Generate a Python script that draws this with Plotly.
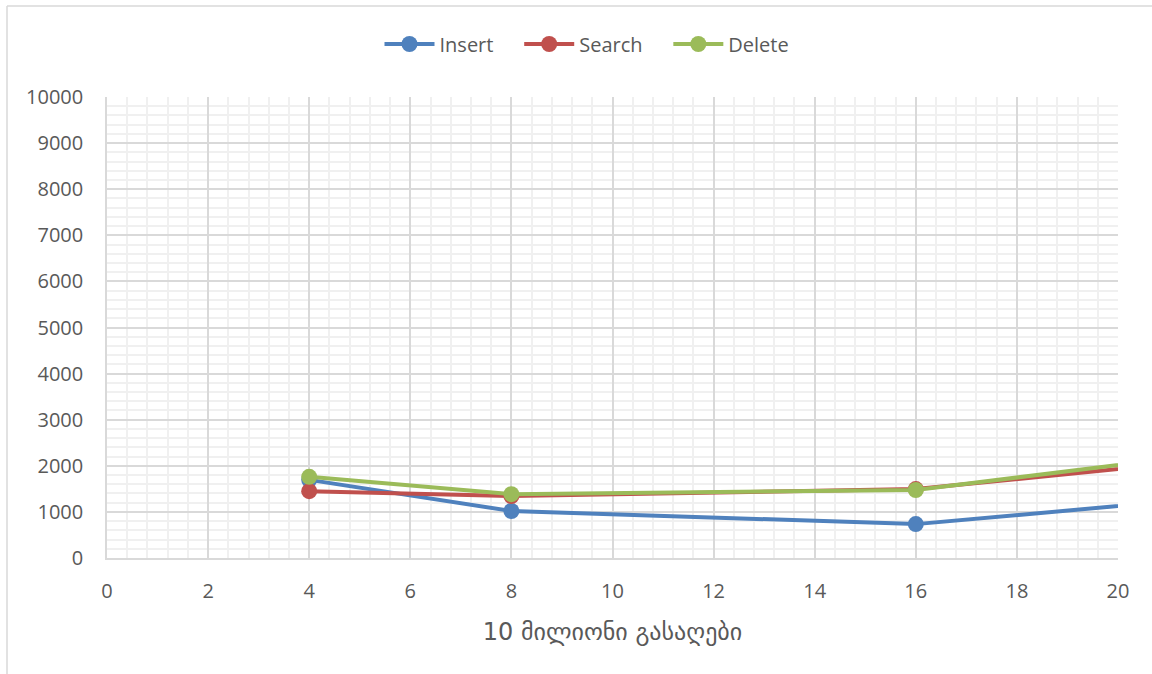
import plotly.graph_objects as go

x_values = [4, 8, 16, 32]
insert_vals = [1695, 1020, 735, 2300]
search_vals = [1450, 1345, 1495, 3230]
delete_vals = [1760, 1385, 1475, 3640]
x_ticks = [0, 2, 4, 6, 8, 10, 12, 14, 16, 18, 20]
y_ticks = [0, 1000, 2000, 3000, 4000, 5000, 6000, 7000, 8000, 9000, 10000]
x_title = "10 მილიონი გასაღები"

series = [
    ("Insert", insert_vals, "#4F81BD"),
    ("Search", search_vals, "#C0504D"),
    ("Delete", delete_vals, "#9BBB59"),
]

fig = go.Figure()
for i, (name, vals, color) in enumerate(series):
    label = name + ("\u00a0\u00a0\u00a0\u00a0" if i < len(series) - 1 else "")
    fig.add_trace(go.Scatter(
        x=x_values, y=vals, name=label, mode="lines+markers",
        line=dict(color=color, width=4),
        marker=dict(color=color, size=16),
        cliponaxis=True,
    ))

W, H = 1152, 674
L, R, T, B = 107, 34, 97, 116
pw = W - L - R
ph = H - T - B

fig.update_layout(
    width=W, height=H,
    margin=dict(l=L, r=R, t=T, b=B, autoexpand=False),
    paper_bgcolor="white", plot_bgcolor="white",
    font=dict(family="Open Sans, DejaVu Sans, sans-serif", color="#595959", size=20),
    legend=dict(orientation="h", x=(587 - L) / pw, xanchor="center", y=1 + (97 - 44) / ph, yanchor="middle",
                font=dict(size=20, color="#595959"), tracegroupgap=0, itemwidth=50),
    showlegend=True,
    xaxis=dict(
        range=[0, 20], tickvals=x_ticks, ticktext=[str(v) for v in x_ticks], ticks="",
        showline=True, linecolor="#D9D9D9", linewidth=1.5,
        showgrid=True, gridcolor="#D9D9D9", gridwidth=1.5,
        minor=dict(dtick=0.4, showgrid=True, gridcolor="#F0F0F0", gridwidth=1.5),
        zeroline=False, ticklabelstandoff=14,
        title=dict(text=x_title, font=dict(family="DejaVu Sans, sans-serif", size=24, color="#595959"), standoff=20),
        tickfont=dict(size=20),
    ),
    yaxis=dict(
        range=[0, 10000], tickvals=y_ticks, ticktext=[str(v) for v in y_ticks], ticks="",
        showline=True, linecolor="#D9D9D9", linewidth=1.5,
        showgrid=True, gridcolor="#D9D9D9", gridwidth=1.5,
        minor=dict(dtick=200, showgrid=True, gridcolor="#F0F0F0", gridwidth=1.5),
        zeroline=False, tickfont=dict(size=20), ticklabelstandoff=18,
    ),
)

# outer chart border (top and left visible)
fig.add_shape(type="line", xref="paper", yref="paper",
              x0=(7 - L) / pw, x1=(W + 10 - L) / pw, y0=(H - B - 6) / ph, y1=(H - B - 6) / ph,
              line=dict(color="#D9D9D9", width=1.5))
fig.add_shape(type="line", xref="paper", yref="paper",
              x0=(7 - L) / pw, x1=(7 - L) / pw, y0=(H - B - 6) / ph, y1=-(B + 10) / ph,
              line=dict(color="#D9D9D9", width=1.5))

fig.write_html("out.html", config={"displayModeBar": False},
               post_script="document.body.style.margin='0';document.body.style.overflow='hidden';")
